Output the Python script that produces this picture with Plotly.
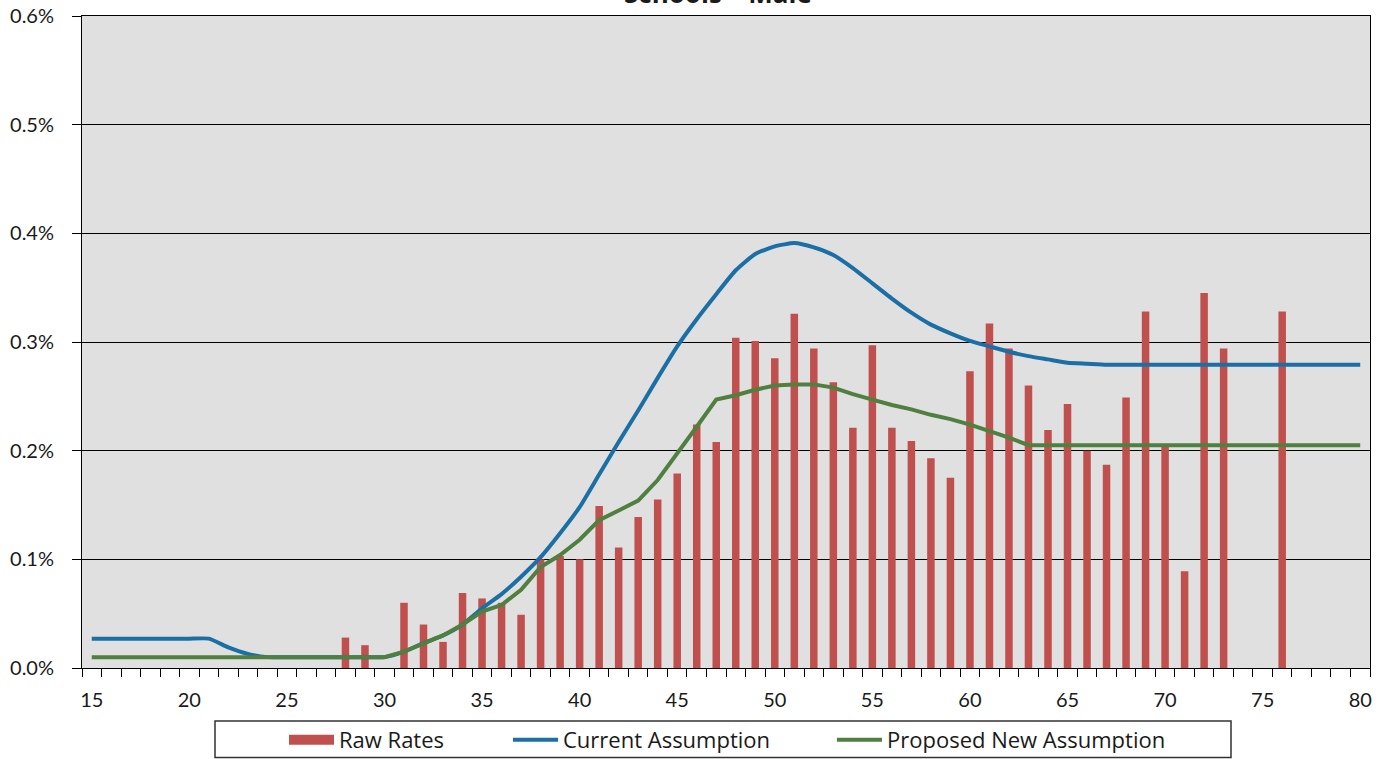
import plotly.graph_objects as go

# Ages on the x axis (one category per year of age)
ages = list(range(15, 81))
tick_ages = [15, 20, 25, 30, 35, 40, 45, 50, 55, 60, 65, 70, 75, 80]

# Observed raw rates (%), only ages with exposure
raw_ages = [28, 29, 31, 32, 33, 34, 35, 36, 37, 38, 39, 40, 41, 42, 43, 44,
            45, 46, 47, 48, 49, 50, 51, 52, 53, 54, 55, 56, 57, 58, 59, 60,
            61, 62, 63, 64, 65, 66, 67, 68, 69, 70, 71, 72, 73, 76]
raw_rates = [0.028, 0.021, 0.060, 0.040, 0.024, 0.069, 0.064, 0.060, 0.049,
             0.100, 0.103, 0.100, 0.149, 0.111, 0.139, 0.155, 0.179, 0.224,
             0.208, 0.304, 0.301, 0.285, 0.326, 0.294, 0.263, 0.221, 0.297,
             0.221, 0.209, 0.193, 0.175, 0.273, 0.317, 0.294, 0.260, 0.219,
             0.243, 0.200, 0.187, 0.249, 0.328, 0.204, 0.089, 0.345, 0.294,
             0.328]

# Current assumption (%), ages 15-80
current = [0.027, 0.027, 0.027, 0.027, 0.027, 0.027, 0.027,          # 15-21
           0.019, 0.013, 0.010,                                       # 22-24
           0.010, 0.010, 0.010, 0.010, 0.010, 0.010,                  # 25-30
           0.015, 0.023, 0.030, 0.040, 0.055, 0.068, 0.084, 0.102,    # 31-38
           0.124, 0.148, 0.178, 0.208, 0.237, 0.267, 0.296, 0.321,    # 39-46
           0.344, 0.366, 0.381, 0.388, 0.391, 0.387, 0.380, 0.368,    # 47-54
           0.354, 0.340, 0.327, 0.316, 0.308, 0.301, 0.296, 0.291,    # 55-62
           0.287, 0.284, 0.281, 0.280, 0.279, 0.279, 0.279, 0.279,    # 63-70
           0.279, 0.279, 0.279, 0.279, 0.279, 0.279, 0.279, 0.279,    # 71-78
           0.279, 0.279]                                              # 79-80

# Proposed new assumption (%), ages 15-80
proposed = [0.010] * 16 + [                                           # 15-30
            0.015, 0.023, 0.030, 0.040, 0.052, 0.058, 0.072, 0.093,   # 31-38
            0.104, 0.118, 0.136, 0.145, 0.154, 0.173, 0.197, 0.222,   # 39-46
            0.247, 0.251, 0.256, 0.260, 0.261, 0.261, 0.258, 0.252,   # 47-54
            0.247, 0.242, 0.238, 0.233, 0.229, 0.224, 0.218, 0.212,   # 55-62
            0.205, 0.205, 0.205, 0.205, 0.205, 0.205, 0.205, 0.205,   # 63-70
            0.205, 0.205, 0.205, 0.205, 0.205, 0.205, 0.205, 0.205,   # 71-78
            0.205, 0.205]                                             # 79-80

RED = "#C0504D"
BLUE = "#1B6FA5"
GREEN = "#4F8040"
FONT = "Lato, 'Open Sans', sans-serif"
LEG_FONT = "'Open Sans', Lato, sans-serif"
TXT = "#1a1a1a"

W, H = 1390, 759
L, R, T, B = 82, 20, 16, 91
PW, PH = W - L - R, H - T - B


def px(x):
    return (x - L) / PW


def py(y):
    return (H - B - y) / PH


fig = go.Figure()

fig.add_trace(go.Bar(
    x=raw_ages, y=raw_rates, name="Raw Rates",
    marker=dict(color=RED, line=dict(width=0)),
    showlegend=False,
))
# legend swatch for the bars
fig.add_trace(go.Scatter(
    x=[None], y=[None], mode="lines", name="Raw Rates",
    line=dict(color=RED, width=14), legend="legend",
))
fig.add_trace(go.Scatter(
    x=ages, y=current, mode="lines", name="Current Assumption",
    line=dict(color=BLUE, width=4, shape="spline", smoothing=0.5),
    legend="legend2",
))
fig.add_trace(go.Scatter(
    x=ages, y=proposed, mode="lines", name="Proposed New Assumption",
    line=dict(color=GREEN, width=4),
    legend="legend3",
))

leg_common = dict(
    orientation="h", font=dict(family=LEG_FONT, size=22, color=TXT),
    bgcolor="rgba(0,0,0,0)", borderwidth=0, itemwidth=45,
    xanchor="left", yanchor="middle", tracegroupgap=0,
)
legend_y = py(740)

fig.update_layout(
    width=W, height=H,
    margin=dict(l=L, r=R, t=T, b=B, autoexpand=False),
    paper_bgcolor="white",
    plot_bgcolor="#E0E0E0",
    bargap=0.615,
    font=dict(family=FONT, size=20, color=TXT),
    legend=dict(x=px(284), y=legend_y, **leg_common),
    legend2=dict(x=px(508), y=legend_y, **leg_common),
    legend3=dict(x=px(832), y=legend_y, **leg_common),
    xaxis=dict(
        range=[14.5, 80.5],
        tickmode="array", tickvals=tick_ages,
        ticks="", showgrid=False, zeroline=False,
        showline=True, linecolor="black", linewidth=1, mirror=True,
        tickfont=dict(family=FONT, size=20, color=TXT),
        ticklabelstandoff=14,
        minor=dict(ticks="outside", ticklen=8, tickwidth=1, tickcolor="black",
                   tickvals=[a - 0.5 for a in ages] + [ages[-1] + 0.5],
                   showgrid=False),
    ),
    yaxis=dict(
        range=[0, 0.6], tickmode="linear", tick0=0, dtick=0.1,
        tickformat=".1f", ticksuffix="%",
        ticks="outside", ticklen=9, tickwidth=1, tickcolor="black",
        showgrid=True, gridcolor="black", gridwidth=1,
        zeroline=False, showline=True, linecolor="black", linewidth=1,
        mirror=True,
        tickfont=dict(family=FONT, size=20, color=TXT),
        ticklabelstandoff=14,
    ),
    shapes=[dict(
        type="rect", xref="paper", yref="paper",
        x0=px(215), x1=px(1231), y0=py(721), y1=py(757.5),
        line=dict(color="#333333", width=1.5), fillcolor="rgba(0,0,0,0)",
        layer="above",
    )],
    annotations=[dict(
        text="<b>Schools – Male</b>", xref="paper", yref="paper",
        x=px(718), y=py(13), xanchor="center", yanchor="bottom",
        showarrow=False, font=dict(family=LEG_FONT, size=26, color=TXT),
    )],
)

fig.write_html("out.html")
